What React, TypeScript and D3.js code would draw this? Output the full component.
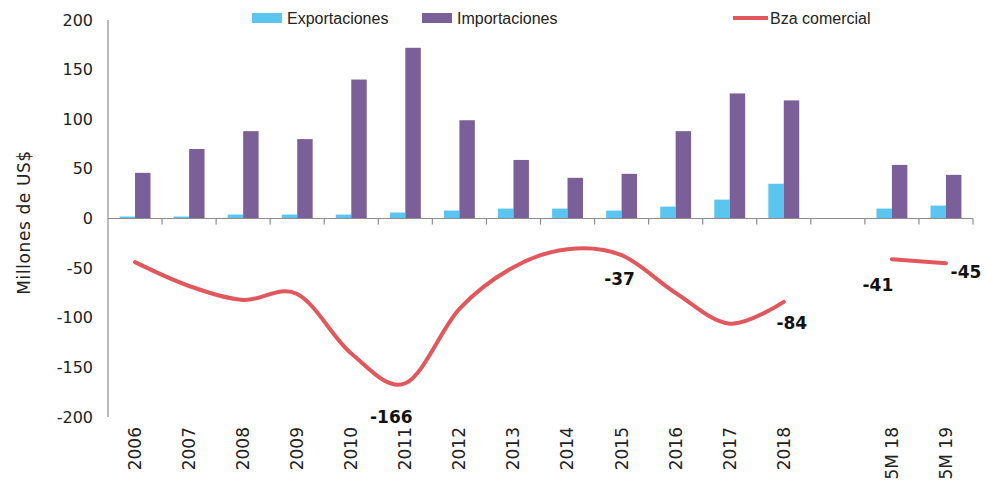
import React from 'react'
import * as d3 from 'd3'

const categories = ['2006', '2007', '2008', '2009', '2010', '2011', '2012', '2013', '2014', '2015', '2016', '2017', '2018', '', '5M 18', '5M 19']
const exportaciones = [2, 2, 4, 4, 4, 6, 8, 10, 10, 8, 12, 19, 35, null, 10, 13]
const importaciones = [46, 70, 88, 80, 140, 172, 99, 59, 41, 45, 88, 126, 119, null, 54, 44]
const balanza = [-44, -68, -82, -76, -136, -166, -91, -49, -31, -37, -75, -106, -84, null, -41, -45]
const yTicks = [200, 150, 100, 50, 0, -50, -100, -150, -200]
// which balance points get a data label, and where it sits
const labeled: { i: number; dx: number; dy: number }[] = [
  { i: 5, dx: -14, dy: 40 },
  { i: 9, dx: -2, dy: 30 },
  { i: 12, dx: 8, dy: 27 },
  { i: 14, dx: -14, dy: 32 },
  { i: 15, dx: 20, dy: 15 },
]

const W = 986
const H = 493
const font = 'DejaVu Sans, Verdana, sans-serif'
const legendFont = 'Liberation Sans, Arial, sans-serif'
const cExp = '#5bc5f0'
const cImp = '#7b5f98'
const cBal = '#e2575b'

export default function App() {
  const x = d3.scaleBand<number>()
    .domain(categories.map((_, i) => i))
    .range([108, 973])
  const y = d3.scaleLinear().domain([-200, 200]).range([417, 20])
  const bw = x.bandwidth() / 3.5
  const cx = (i: number) => (x(i) as number) + x.bandwidth() / 2

  const line = d3.line<number | null>()
    .defined((d) => d !== null)
    .x((_, i) => cx(i))
    .y((d) => y(d as number))
    .curve(d3.curveCardinal.tension(0))

  return (
    <svg width={W} height={H} style={{ position: 'absolute', left: 0, top: 0, background: '#fff' }}>
      {/* bars */}
      {categories.map((_, i) => (
        <g key={i}>
          {exportaciones[i] !== null && (
            <rect x={cx(i) - bw} y={y(exportaciones[i] as number)} width={bw}
              height={y(0) - y(exportaciones[i] as number)} fill={cExp} />
          )}
          {importaciones[i] !== null && (
            <rect x={cx(i)} y={y(importaciones[i] as number)} width={bw}
              height={y(0) - y(importaciones[i] as number)} fill={cImp} />
          )}
        </g>
      ))}

      {/* y axis */}
      <line x1={108} x2={108} y1={y(200)} y2={y(-200)} stroke="#8c8c8c" strokeWidth={1.2} />
      {yTicks.map((t) => (
        <text key={t} x={93} y={y(t)} dy="0.35em" textAnchor="end" fontFamily={font} fontSize={16} fill="#222">
          {t}
        </text>
      ))}
      <text transform={`translate(24,${y(-4)}) rotate(-90)`} textAnchor="middle" dy="0.35em"
        fontFamily={font} fontSize={17} letterSpacing={0.6} fill="#222">Millones de US$</text>

      {/* x axis at zero */}
      <line x1={108} x2={973} y1={y(0)} y2={y(0)} stroke="#8c8c8c" strokeWidth={1.2} />
      {categories.map((_, i) => (
        <line key={i} x1={(x(i) as number) + x.bandwidth()} x2={(x(i) as number) + x.bandwidth()}
          y1={y(0)} y2={y(0) + 6} stroke="#8c8c8c" strokeWidth={1.2} />
      ))}
      {categories.map((c, i) => (
        <text key={i} transform={`translate(${cx(i)},${427}) rotate(-90)`} textAnchor="end" dy="0.35em"
          fontFamily={font} fontSize={17} fill="#222">{c}</text>
      ))}

      {/* balance line */}
      <path d={line(balanza) || ''} fill="none" stroke={cBal} strokeWidth={4} strokeLinecap="round" />
      {labeled.map((l) => (
        <text key={l.i} x={cx(l.i) + l.dx} y={y(balanza[l.i] as number) + l.dy} textAnchor="middle"
          fontFamily={font} fontSize={17} fontWeight="bold" fill="#111">{balanza[l.i]}</text>
      ))}

      {/* legend */}
      <rect x={252} y={13} width={30} height={10} fill={cExp} />
      <text x={287} y={18} dy="0.35em" fontFamily={legendFont} fontSize={16} fill="#222">Exportaciones</text>
      <rect x={422} y={13} width={30} height={10} fill={cImp} />
      <text x={457} y={18} dy="0.35em" fontFamily={legendFont} fontSize={16} fill="#222">Importaciones</text>
      <line x1={733} x2={768} y1={18} y2={18} stroke={cBal} strokeWidth={4} />
      <text x={770} y={18} dy="0.35em" fontFamily={legendFont} fontSize={16} fill="#222">Bza comercial</text>
    </svg>
  )
}
